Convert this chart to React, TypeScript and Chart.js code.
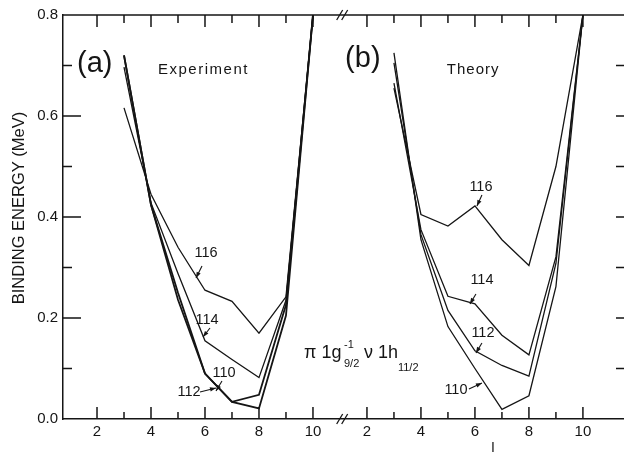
import React, { useEffect, useRef } from "react";
import { Chart, registerables } from "chart.js";

Chart.register(...registerables);

// spins I
const spins = [3, 4, 5, 6, 7, 8, 9, 10];

// (a) Experiment — binding energy (MeV)
const exp110 = [0.72, 0.424, 0.236, 0.09, 0.034, 0.021, 0.205, 0.8];
const exp112 = [0.72, 0.424, 0.25, 0.09, 0.034, 0.048, 0.226, 0.8];
const exp114 = [0.697, 0.428, 0.288, 0.155, 0.118, 0.082, 0.235, 0.8];
const exp116 = [0.616, 0.445, 0.34, 0.255, 0.233, 0.17, 0.242, 0.8];

// (b) Theory — binding energy (MeV)
const th110 = [0.725, 0.355, 0.183, 0.1, 0.019, 0.046, 0.262, 0.8];
const th112 = [0.705, 0.365, 0.215, 0.135, 0.106, 0.085, 0.308, 0.8];
const th114 = [0.665, 0.375, 0.243, 0.228, 0.166, 0.127, 0.321, 0.8];
const th116 = [0.655, 0.405, 0.382, 0.422, 0.355, 0.304, 0.5, 0.8];

// tick labels
const xTickLabels = [2, 4, 6, 8, 10];
const xMinorTicks = [2, 3, 4, 5, 6, 7, 8, 9, 10];
const yTickLabels = [0, 0.2, 0.4, 0.6, 0.8];
const yMinorTicks = [0.1, 0.2, 0.3, 0.4, 0.5, 0.6, 0.7];

// panel (b) is placed after panel (a) on one shared axis
const PANEL_B_OFFSET = 10;

const FONT = '"Liberation Sans", Arial, sans-serif';
const INK = "#151515";

export default function App() {
  const ref = useRef<HTMLCanvasElement>(null);

  useEffect(() => {
    document.body.style.margin = "0";
    const canvas = ref.current!;
    const pts = (ys: number[], off: number) => spins.map((s, i) => ({ x: s + off, y: ys[i] }));
    const ds = (data: any, w: number) => ({
      data,
      borderColor: INK,
      borderWidth: w,
      pointRadius: 0,
      tension: 0,
      fill: false,
    });

    const decor = {
      id: "decor",
      afterDatasetsDraw(chart: any) {
        const ctx = chart.ctx as CanvasRenderingContext2D;
        const xs = chart.scales.x;
        const ys = chart.scales.y;
        const { top, bottom, left, right } = chart.chartArea;
        const X = (u: number) => xs.getPixelForValue(u);
        const Y = (v: number) => ys.getPixelForValue(v);
        ctx.save();
        ctx.strokeStyle = INK;
        ctx.fillStyle = INK;
        ctx.lineWidth = 1.5;
        // top frame
        ctx.beginPath();
        ctx.moveTo(left, top);
        ctx.lineTo(right, top);
        ctx.stroke();
        // x ticks (inward) top & bottom
        for (const off of [0, PANEL_B_OFFSET]) {
          for (const t of xMinorTicks) {
            const px = X(t + off);
            const lb = t % 2 === 0 ? 12 : 7;
            const lt = t % 2 === 0 ? 12 : 8;
            ctx.beginPath();
            ctx.moveTo(px, bottom);
            ctx.lineTo(px, bottom - lb);
            ctx.moveTo(px, top);
            ctx.lineTo(px, top + lt);
            ctx.stroke();
          }
        }
        // y ticks (inward) left & right
        for (const v of yMinorTicks) {
          const py = Y(v);
          const major = Math.abs((v * 10) % 2) < 0.01;
          ctx.beginPath();
          ctx.moveTo(left, py);
          ctx.lineTo(left + (major ? 18 : 9), py);
          ctx.moveTo(right, py);
          ctx.lineTo(right - 12, py);
          ctx.stroke();
        }
        // axis breaks //
        const bx = X(11.1);
        ctx.lineWidth = 1.3;
        for (const yy of [bottom, top]) {
          for (const dx of [-3, 2]) {
            ctx.beginPath();
            ctx.moveTo(bx + dx - 3, yy + 5);
            ctx.lineTo(bx + dx + 3, yy - 5);
            ctx.stroke();
          }
        }

        // y axis title
        ctx.save();
        ctx.translate(19, 208);
        ctx.rotate(-Math.PI / 2);
        ctx.font = `16.5px ${FONT}`;
        ctx.textAlign = "center";
        ctx.textBaseline = "middle";
        ctx.fillText("BINDING ENERGY (MeV)", 0, 0);
        ctx.restore();

        // panel titles
        ctx.textBaseline = "middle";
        ctx.textAlign = "left";
        ctx.font = `29px ${FONT}`;
        ctx.fillText("(a)", X(1.26), Y(0.702));
        ctx.fillText("(b)", X(11.19), Y(0.712));
        ctx.font = `15px ${FONT}`;
        (ctx as any).letterSpacing = "1.5px";
        ctx.fillText("Experiment", X(4.26), Y(0.691));
        (ctx as any).letterSpacing = "1px";
        ctx.fillText("Theory", X(14.96), Y(0.691));
        (ctx as any).letterSpacing = "0px";

        // isotope labels with arrows
        const lab = (t: string, u: number, v: number, x1: number, y1: number, x2: number, y2: number) => {
          ctx.font = `14.5px ${FONT}`;
          ctx.textAlign = "center";
          ctx.textBaseline = "middle";
          ctx.fillText(t, X(u), Y(v));
          const ax = X(x1), ay = Y(y1), bx2 = X(x2), by = Y(y2);
          ctx.lineWidth = 1.1;
          ctx.beginPath();
          ctx.moveTo(ax, ay);
          ctx.lineTo(bx2, by);
          ctx.stroke();
          const ang = Math.atan2(by - ay, bx2 - ax);
          const L = 6, W = 2.2;
          ctx.beginPath();
          ctx.moveTo(bx2, by);
          ctx.lineTo(bx2 - L * Math.cos(ang) + W * Math.sin(ang), by - L * Math.sin(ang) - W * Math.cos(ang));
          ctx.lineTo(bx2 - L * Math.cos(ang) - W * Math.sin(ang), by - L * Math.sin(ang) + W * Math.cos(ang));
          ctx.closePath();
          ctx.fill();
        };
        const u = (px: number) => 2 + (px - 97) / 27; // helper: reference px -> axis units
        const v = (py: number) => (419 - py) / 505;
        lab("116", u(206), v(253), u(202), v(266), u(196), v(278));
        lab("114", u(207), v(320), u(210), v(328), u(203), v(337));
        lab("110", u(224), v(373), u(222), v(381), u(216), v(391));
        lab("112", u(189), v(392), u(200), v(392), u(216), v(388));
        lab("116", u(481), v(187), u(482), v(195), u(477), v(206));
        lab("114", u(482), v(280), u(476), v(294), u(470), v(304));
        lab("112", u(483), v(333), u(482), v(343), u(476), v(353));
        lab("110", u(456), v(390), u(469), v(389), u(482), v(383));

        // configuration formula
        ctx.textAlign = "left";
        ctx.textBaseline = "alphabetic";
        ctx.font = `18px ${FONT}`;
        ctx.fillText("π 1g", X(u(304)), Y(v(358)));
        ctx.fillText("ν 1h", X(u(364)), Y(v(358)));
        ctx.font = `11px ${FONT}`;
        ctx.fillText("-1", X(u(344)), Y(v(348)));
        ctx.fillText("9/2", X(u(344)), Y(v(367)));
        ctx.fillText("11/2", X(u(398)), Y(v(371)));

        // x axis title (cut by page edge)
        ctx.font = `14px ${FONT}`;
        ctx.textAlign = "center";
        ctx.textBaseline = "top";
        ctx.fillText("I", X(u(493)), 441);
        ctx.restore();
      },
    };

    const chart = new Chart(canvas, {
      type: "line",
      data: {
        datasets: [
          ds(pts(exp110, 0), 1.8),
          ds(pts(exp112, 0), 1.8),
          ds(pts(exp114, 0), 1.3),
          ds(pts(exp116, 0), 1.3),
          ds(pts(th110, PANEL_B_OFFSET), 1.3),
          ds(pts(th112, PANEL_B_OFFSET), 1.3),
          ds(pts(th114, PANEL_B_OFFSET), 1.3),
          ds(pts(th116, PANEL_B_OFFSET), 1.3),
        ],
      },
      options: {
        responsive: false,
        animation: false,
        devicePixelRatio: 1,
        layout: { padding: { top: 15, right: 2, left: 0, bottom: 0 } },
        plugins: { legend: { display: false }, tooltip: { enabled: false } },
        scales: {
          x: {
            type: "linear",
            min: 0.74,
            max: 21.67,
            grid: { display: false, drawTicks: false },
            border: { display: true, color: INK, width: 1.5 },
            afterBuildTicks: (s: any) => {
              s.ticks = [...xTickLabels, ...xTickLabels.map((t) => t + PANEL_B_OFFSET)].map((t) => ({ value: t }));
            },
            afterFit: (s: any) => {
              s.height = 34;
            },
            ticks: {
              color: INK,
              font: { family: FONT, size: 15 },
              padding: 4,
              maxRotation: 0,
              autoSkip: false,
              callback: (val: any) => String(val > 11 ? val - PANEL_B_OFFSET : val),
            },
          },
          y: {
            type: "linear",
            min: 0,
            max: 0.8,
            grid: { display: false, drawTicks: false },
            border: { display: true, color: INK, width: 1.5 },
            afterBuildTicks: (s: any) => {
              s.ticks = yTickLabels.map((t) => ({ value: t }));
            },
            afterFit: (s: any) => {
              s.width = 63;
            },
            ticks: {
              color: INK,
              font: { family: FONT, size: 15 },
              padding: 5,
              callback: (val: any) => Number(val).toFixed(1),
            },
          },
        },
      },
      plugins: [decor],
    });
    return () => chart.destroy();
  }, []);

  return (
    <div style={{ width: 624, height: 453, overflow: "hidden", background: "#fff" }}>
      <canvas ref={ref} width={630} height={453} style={{ display: "block", width: 630, height: 453 }} />
    </div>
  );
}
